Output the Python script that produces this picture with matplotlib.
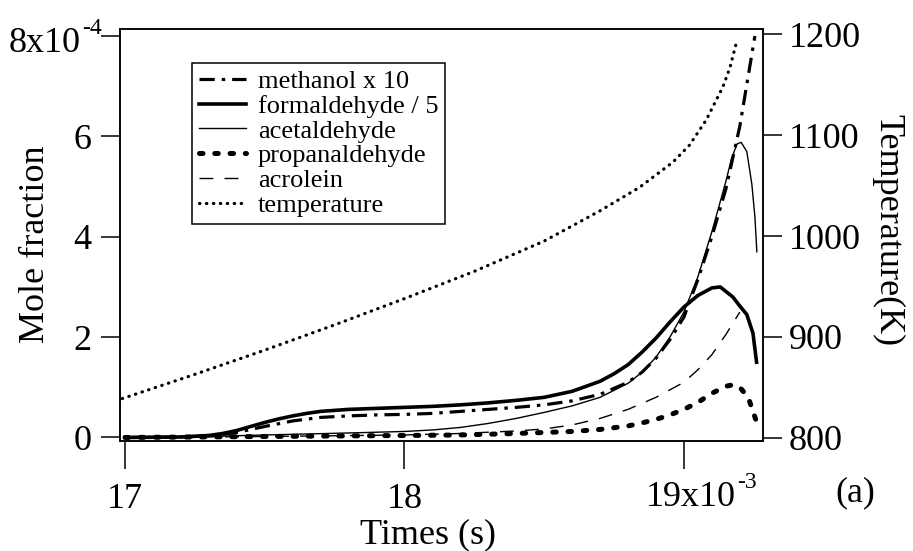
import matplotlib
matplotlib.use("Agg")
import matplotlib.pyplot as plt

plt.rcParams['font.family'] = ['Liberation Serif', 'DejaVu Serif']
plt.rcParams['lines.scale_dashes'] = False

# time in units of 1e-3 s, mole fractions in units of 1e-4
t_form = [17.0, 17.2, 17.3, 17.35, 17.4, 17.45, 17.5, 17.55, 17.6, 17.65, 17.7, 17.8, 17.9, 18.0,
          18.1, 18.2, 18.3, 18.4, 18.5, 18.6, 18.7, 18.75, 18.8, 18.85, 18.9, 18.95, 19.0, 19.05,
          19.1, 19.13, 19.175, 19.2, 19.225, 19.247, 19.26]
formaldehyde = [0.0, 0.01, 0.04, 0.08, 0.14, 0.22, 0.30, 0.37, 0.43, 0.48, 0.52, 0.56, 0.58, 0.60,
                0.62, 0.65, 0.69, 0.74, 0.80, 0.92, 1.12, 1.27, 1.45, 1.7, 1.98, 2.3, 2.6, 2.83,
                2.98, 3.0, 2.8, 2.62, 2.45, 2.08, 1.5]

t_acet = [17.0, 17.3, 17.5, 17.8, 18.0, 18.1, 18.2, 18.3, 18.4, 18.5, 18.6, 18.7, 18.8, 18.85,
          18.9, 18.95, 19.0, 19.05, 19.1, 19.15, 19.17, 19.19, 19.205, 19.225, 19.243, 19.254, 19.261]
acetaldehyde = [0.0, 0.02, 0.05, 0.09, 0.12, 0.15, 0.2, 0.28, 0.38, 0.5, 0.63, 0.8, 1.08, 1.3,
                1.6, 2.0, 2.5, 3.2, 4.1, 5.1, 5.55, 5.85, 5.88, 5.7, 5.05, 4.4, 3.7]

t_meth = [17.0, 17.2, 17.3, 17.4, 17.5, 17.6, 17.7, 17.8, 17.9, 18.0, 18.1, 18.2, 18.3, 18.4,
          18.5, 18.6, 18.7, 18.8, 18.85, 18.9, 18.95, 19.0, 19.05, 19.1, 19.15, 19.2, 19.23, 19.254]
methanol = [0.0, 0.01, 0.03, 0.1, 0.22, 0.33, 0.4, 0.43, 0.45, 0.46, 0.48, 0.52, 0.56, 0.6,
            0.65, 0.73, 0.86, 1.1, 1.3, 1.58, 1.95, 2.4, 3.15, 4.0, 4.95, 6.2, 7.2, 8.0]

t_prop = [17.0, 17.5, 18.0, 18.2, 18.4, 18.5, 18.6, 18.7, 18.8, 18.85, 18.9, 18.95, 19.0, 19.05,
          19.1, 19.15, 19.175, 19.2, 19.23, 19.26]
propanaldehyde = [0.0, 0.02, 0.04, 0.05, 0.08, 0.1, 0.12, 0.16, 0.23, 0.29, 0.36, 0.45, 0.56,
                  0.7, 0.88, 1.02, 1.05, 1.0, 0.8, 0.31]

t_acro = [17.0, 17.5, 18.0, 18.2, 18.4, 18.5, 18.6, 18.7, 18.8, 18.9, 19.0, 19.05, 19.1, 19.15, 19.2]
acrolein = [0.0, 0.02, 0.05, 0.08, 0.13, 0.17, 0.25, 0.38, 0.56, 0.8, 1.1, 1.35, 1.65, 2.05, 2.5]

t_temp = [16.99, 17.25, 17.5, 17.75, 18.0, 18.25, 18.5, 18.7, 18.84, 18.96, 19.02, 19.08,
          19.14, 19.165, 19.19]
temperature = [839, 863, 887, 912, 938, 965, 995, 1025, 1048, 1073, 1090, 1115, 1148, 1167, 1194]

x_ticks = [17, 18, 19]
x_ticklabels = ["17", "18", ""]
y_ticks = [0, 2, 4, 6, 8]
y_ticklabels = ["0", "2", "4", "6", ""]
t_ticks = [800, 900, 1000, 1100, 1200]

W, H = 913, 551
fig = plt.figure(figsize=(W / 100, H / 100), dpi=100)
L, R, T, B = 120, 763, 29, 441
ax = fig.add_axes([L / W, 1 - B / H, (R - L) / W, (B - T) / H])
ax2 = ax.twinx()

k = 'black'
h1, = ax.plot(t_meth, methanol, color=k, lw=2.3, dashes=(11, 5, 2.5, 5), label='methanol x 10')
h2, = ax.plot(t_form, formaldehyde, color=k, lw=2.6, label='formaldehyde / 5')
h3, = ax.plot(t_acet, acetaldehyde, color=k, lw=1.0, label='acetaldehyde')
h4, = ax.plot(t_prop, propanaldehyde, color=k, lw=3.6, dashes=(2.5, 8.5),
              dash_capstyle='round', label='propanaldehyde')
h5, = ax.plot(t_acro, acrolein, color=k, lw=1.0, dashes=(10, 8), label='acrolein')
h6, = ax2.plot(t_temp, temperature, color=k, lw=2.3, dashes=(0.3, 4.7),
               dash_capstyle='round', label='temperature')

ax.set_xlim(16.982, 19.283)
ax.set_ylim(-0.07, 8.14)
ax2.set_ylim(797, 1205)

ax.set_xticks(x_ticks)
ax.set_xticklabels(x_ticklabels)
ax.set_yticks(y_ticks)
ax.set_yticklabels(y_ticklabels)
ax2.set_yticks(t_ticks)

fs = 26
for a in (ax, ax2):
    for s in a.spines.values():
        s.set_linewidth(1.1)
ax.tick_params(axis='x', direction='out', length=20, width=1.1, pad=10, labelsize=fs)
ax.tick_params(axis='y', direction='out', length=13.7, width=1.1, pad=7, labelsize=fs)
ax2.tick_params(axis='y', direction='out', length=13.7, width=1.1, pad=5, labelsize=fs)

def fx(px):
    return px / W

def fy(py):
    return 1 - py / H

# exponent-style tick labels
fig.text(fx(81), fy(44), '8x10', fontsize=fs, ha='right', va='center')
fig.text(fx(82), fy(29), '-4', fontsize=17, ha='left', va='center')
fig.text(fx(646), fy(498), '19x10', fontsize=fs, ha='left', va='center')
fig.text(fx(737), fy(482), '-3', fontsize=17, ha='left', va='center')

fig.text(fx(428), fy(535), 'Times (s)', fontsize=fs, ha='center', va='center')
fig.text(fx(36), fy(244), 'Mole fraction', fontsize=fs, ha='center', va='center', rotation=90)
fig.text(fx(888), fy(230), 'Temperature(K)', fontsize=fs, ha='center', va='center', rotation=270)
fig.text(fx(855), fy(493), '(a)', fontsize=fs, ha='center', va='center')

leg = fig.legend(handles=[h1, h2, h3, h4, h5, h6], loc='upper left',
                 bbox_to_anchor=(fx(192), fy(63)), fontsize=19, frameon=True,
                 fancybox=False, edgecolor='black', framealpha=1, handlelength=1.8,
                 handletextpad=0.45, labelspacing=0.05, borderpad=0.25, borderaxespad=0)
leg.get_frame().set_linewidth(1.1)

fig.savefig('out.png', dpi=100)
